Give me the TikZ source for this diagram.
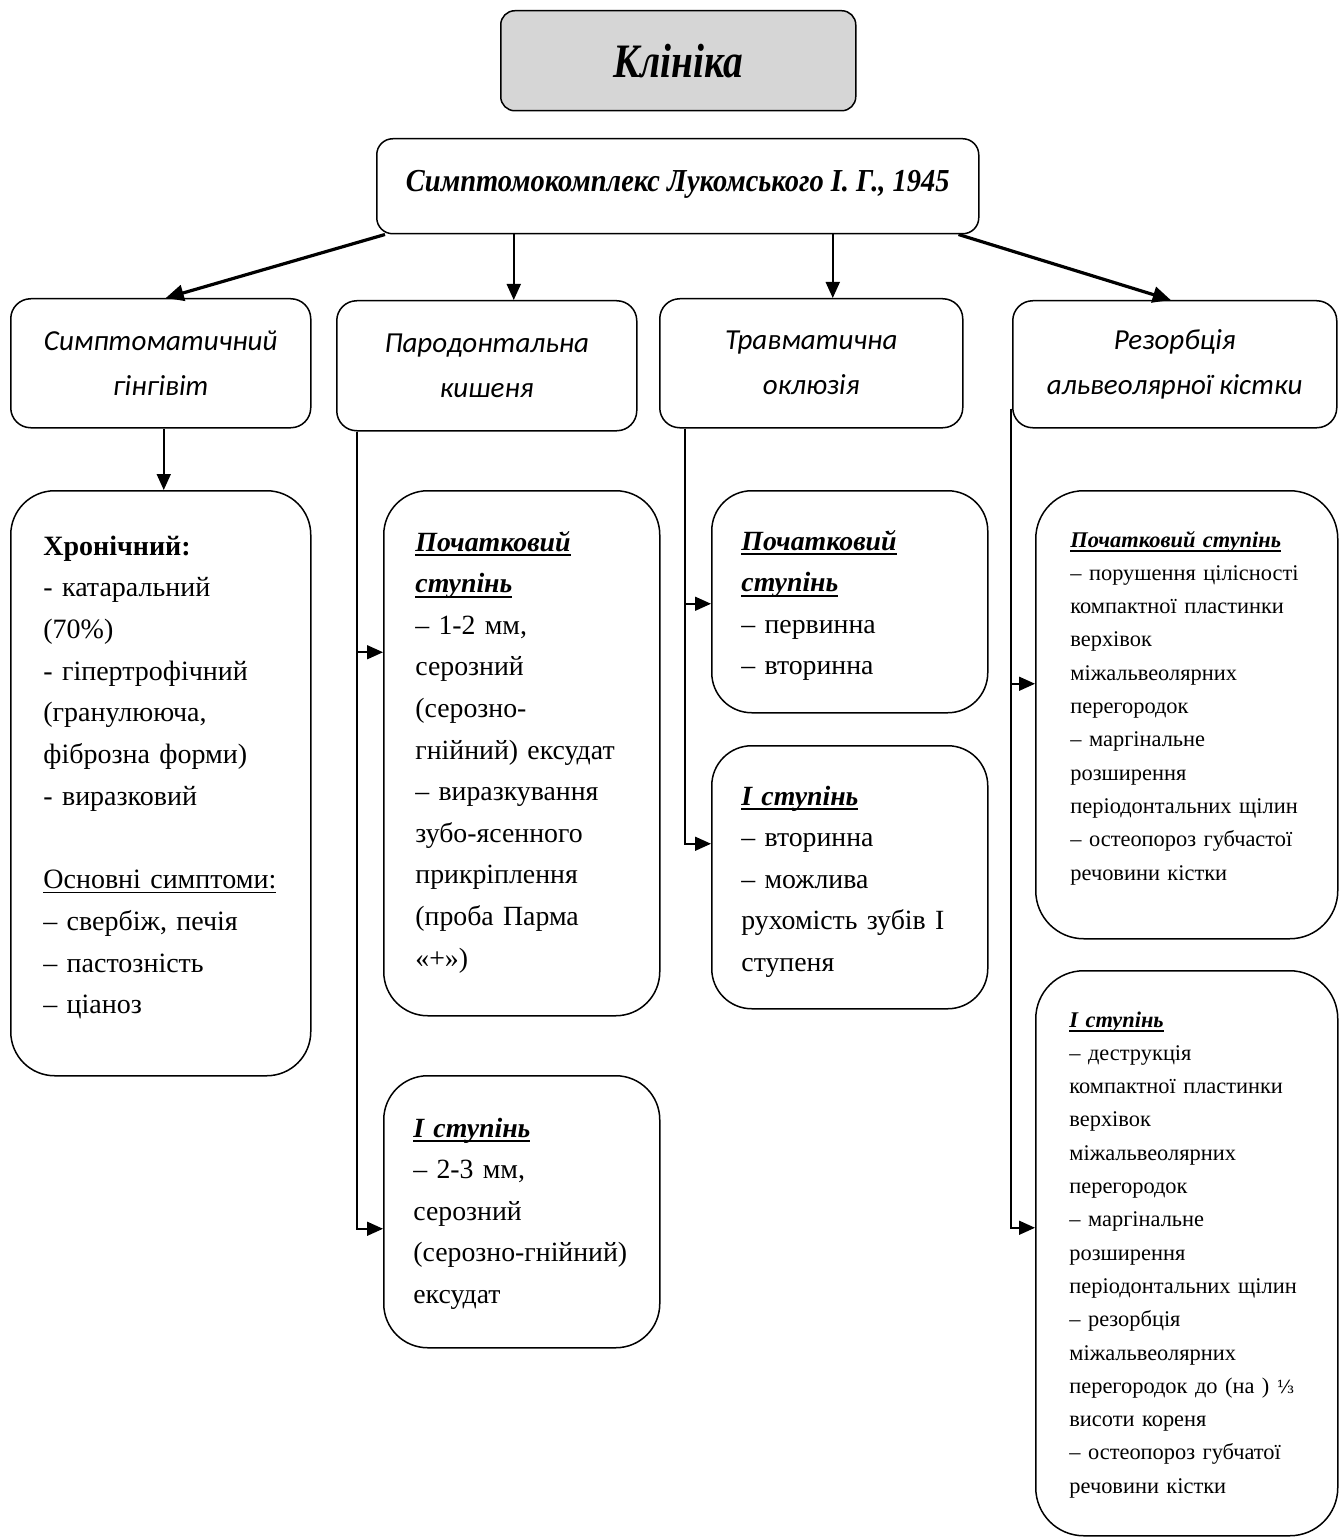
\documentclass[tikz,border=0pt]{standalone}
\usepackage{fontspec}
\setmainfont{Liberation Serif}
\newfontfamily\carl{Carlito}
\newfontfamily\dvs{DejaVu Serif}
\usepackage{graphicx}
\usetikzlibrary{arrows.meta}
\newcommand\hdr[1]{\leavevmode\setbox0\hbox{\bfseries\itshape #1}\rlap{\rule[-2.6pt]{\wd0}{1.1pt}}\box0}
\newcommand\uln[1]{\leavevmode\setbox0\hbox{#1}\rlap{\rule[-2.2pt]{\wd0}{0.6pt}}\box0}
\begin{document}
\begin{tikzpicture}[x=0.5pt,y=-0.5pt,
  bx/.style={draw=black, line width=0.75pt, rounded corners=#1, anchor=north west, inner sep=0pt, fill=white},
  bx/.default=10pt,
  lvl/.style={bx=10pt, align=center, font=\carl\itshape\fontsize{14.5}{22.5}\selectfont},
  txt/.style={anchor=base west, inner sep=0pt, text width=200pt, align=left},
  big/.style={font=\fontsize{13.9}{20.8}\selectfont},
  small/.style={font=\fontsize{11.2}{16.65}\selectfont},
  tip/.style={-{Triangle[length=8pt,width=7pt]}},
  arr/.style={tip, line width=0.9pt},
  darr/.style={line width=1.6pt, -{Triangle[length=9pt,width=8pt]}},
  ln/.style={tip, line width=0.8pt}
]
\useasboundingbox (0,0) rectangle (1341,1540);

% top boxes
\node[bx=7pt, fill=black!16, minimum width=177.5pt, minimum height=50pt] (kl) at (500,10)
  {\fontsize{24}{28}\selectfont\bfseries\itshape\scalebox{0.82}[1]{Клініка}};
\node[bx=8pt, minimum width=301pt, minimum height=47.5pt] (sym) at (376,138)
  {\raisebox{5pt}{\fontsize{16}{19}\selectfont\bfseries\itshape\scalebox{0.89}[1]{Симптомокомплекс Лукомського І. Г., 1945}}};

% level 2
\node[lvl, minimum width=150pt, minimum height=64.5pt] (A) at (10,298) {Симптоматичний\\гінгівіт};
\node[lvl, minimum width=150pt, minimum height=65pt] (B) at (336,300) {Пародонтальна\\кишеня};
\node[lvl, minimum width=151.5pt, minimum height=64.5pt] (C) at (659,298) {Травматична\\оклюзія};
\node[lvl, minimum width=162pt, minimum height=63.5pt] (D) at (1012,300) {Резорбція\\альвеолярної кістки};

% detail boxes
\node[bx=22pt, minimum width=150pt, minimum height=292.5pt] (A1) at (10,490) {};
\node[bx=22pt, minimum width=138pt, minimum height=262.5pt] (B1) at (383,490) {};
\node[bx=22pt, minimum width=138pt, minimum height=136pt] (B2) at (383,1075) {};
\node[bx=20pt, minimum width=138pt, minimum height=111pt] (C1) at (711,490) {};
\node[bx=20pt, minimum width=138pt, minimum height=131.5pt] (C2) at (711,745) {};
\node[bx=24pt, minimum width=151pt, minimum height=224pt] (D1) at (1035,490) {};
\node[bx=24pt, minimum width=151pt, minimum height=282.5pt] (D2) at (1035,970) {};

% texts
\node[txt, font=\fontsize{14}{20.85}\selectfont] (A1t) at (43,555) {\textbf{Хронічний:}\\
- катаральний\\
(70\%)\\
- гіпертрофічний\\
(гранулююча,\\
фіброзна форми)\\
- виразковий\\
\mbox{}\\
\uln{Основні симптоми:}\\
– свербіж, печія\\
– пастозність\\
– ціаноз};

\node[txt, big] (B1t) at (415,551) {\hdr{Початковий}\\
\hdr{ступінь}\\
– 1-2 мм,\\
серозний\\
(серозно-\\
гнійний) ексудат\\
– виразкування\\
зубо-ясенного\\
прикріплення\\
(проба Парма\\
«+»)};

\node[txt, big] (B2t) at (413,1137) {\hdr{І ступінь}\\
– 2-3 мм,\\
серозний\\
(серозно-гнійний)\\
ексудат};

\node[txt, big] (C1t) at (741,550) {\hdr{Початковий}\\
\hdr{ступінь}\\
– первинна\\
– вторинна};

\node[txt, big] (C2t) at (741,805) {\hdr{І ступінь}\\
– вторинна\\
– можлива\\
рухомість зубів І\\
ступеня};

\node[txt, small] (D1t) at (1070,547) {\hdr{Початковий ступінь}\\
– порушення цілісності\\
компактної пластинки\\
верхівок\\
міжальвеолярних\\
перегородок\\
– маргінальне\\
розширення\\
періодонтальних щілин\\
– остеопороз губчастої\\
речовини кістки};

\node[txt, small] (D2t) at (1069,1027) {\hdr{І ступінь}\\
– деструкція\\
компактної пластинки\\
верхівок\\
міжальвеолярних\\
перегородок\\
– маргінальне\\
розширення\\
періодонтальних щілин\\
– резорбція\\
міжальвеолярних\\
перегородок до (на ) {\dvs\fontsize{9}{10}\selectfont ⅓}\\
висоти кореня\\
– остеопороз губчатої\\
речовини кістки};

% connectors from the central box
\draw[darr] ([xshift=4.5pt]sym.south west) -- ([xshift=2.5pt]A.north);
\draw[arr] ([xshift=-82pt]sym.south) -- ([xshift=-82pt]sym.south |- B.north);
\draw[arr] ([xshift=77.5pt]sym.south) -- ([xshift=77.5pt]sym.south |- C.north);
\draw[darr] ([xshift=-10.5pt]sym.south east) -- ([xshift=-2pt]D.north);

% level 2 to details
\draw[arr] ([xshift=1.5pt]A.south) -- ([xshift=1.5pt]A1.north);
\draw[ln] ([xshift=10.5pt]B.south west) |- ([yshift=50.5pt]B1.west);
\draw[ln] ([xshift=10.5pt]B.south west) |- ([yshift=-8.5pt]B2.west);
\draw[ln] ([xshift=13pt]C.south west) |- ([yshift=-1pt]C1.west);
\draw[ln] ([xshift=13pt]C.south west) |- ([yshift=16.75pt]C2.west);
\draw[ln] ([xshift=-0.5pt,yshift=10pt]D.south west) |- ([yshift=15.5pt]D1.west);
\draw[ln] ([xshift=-0.5pt,yshift=10pt]D.south west) |- ([yshift=12.75pt]D2.west);
\end{tikzpicture}
\end{document}
